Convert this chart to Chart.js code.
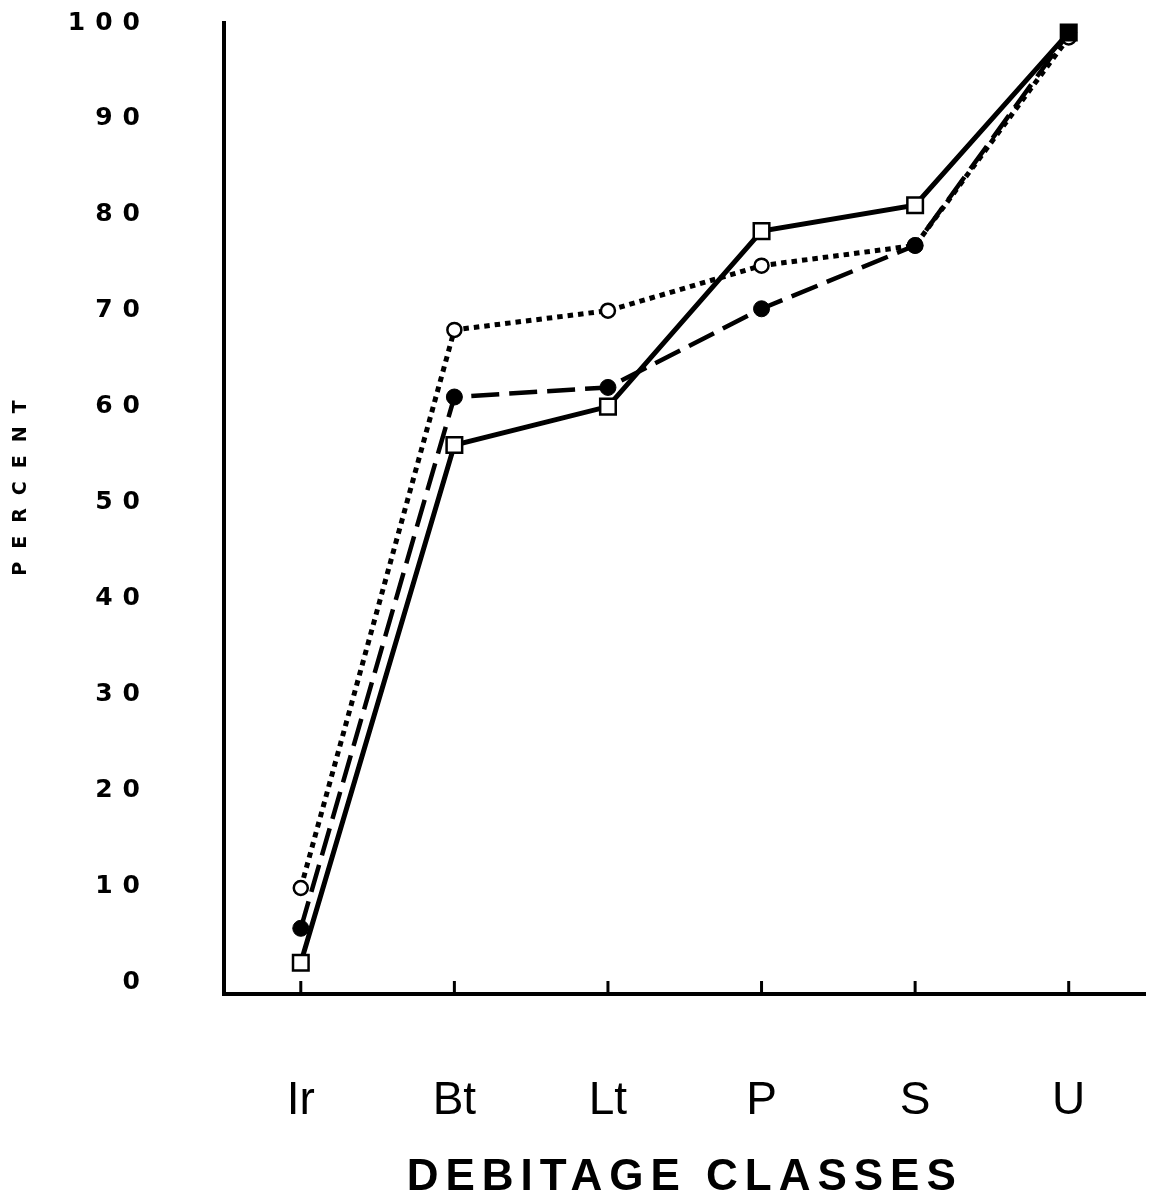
<!DOCTYPE html>
<html>
<head>
<meta charset="utf-8">
<script src="https://cdn.jsdelivr.net/npm/chart.js@4/dist/chart.umd.min.js"></script>
<style>
  html, body { margin: 0; padding: 0; background: #fff; }
  canvas { display: block; }
</style>
</head>
<body>
<canvas id="chart" width="1159" height="1197"></canvas>
<script>
// debitage classes along the bottom
const classes = ['Ir', 'Bt', 'Lt', 'P', 'S', 'U'];
const yTicks = [0, 10, 20, 30, 40, 50, 60, 70, 80, 90, 100];

// values (percent)
const squareSolid = [2, 56, 60, 78.3, 81, 99];
const dotDashed = [5.6, 61, 62, 70.2, 76.8, 99];
const ringDotted = [9.8, 68, 70, 74.7, 76.8, 98.5];

// letter spacing per piece of axis text (the original is typed wide)
const letterGaps = {
    y: { drawLabels: '10px', drawTitle: '13px' },
    x: { drawLabels: '0px', drawTitle: '7px' }
};
const titleNudge = { y: -27, x: 0 }; // PERCENT sits a bit above centre

const axisExtras = {
    id: 'axisExtras',
    beforeDraw(chart) {
        Object.entries(letterGaps).forEach(([id, parts]) => {
            const scale = chart.scales[id];
            Object.entries(parts).forEach(([fn, gap]) => {
                if (Object.prototype.hasOwnProperty.call(scale, fn)) return;
                const orig = scale[fn];
                const nudge = fn === 'drawTitle' ? titleNudge[id] : 0;
                scale[fn] = function (...args) {
                    const c = this.ctx;
                    c.save();
                    c.letterSpacing = gap;
                    c.translate(0, nudge);
                    orig.apply(this, args);
                    c.restore();
                };
            });
        });
    },
    afterDatasetsDraw(chart) {
        // short tick marks pointing up from the x axis
        const ctx = chart.ctx;
        const xs = chart.scales.x;
        const bottom = chart.chartArea.bottom;
        ctx.save();
        ctx.strokeStyle = '#000';
        ctx.lineWidth = 3;
        xs.ticks.forEach((t, i) => {
            const px = xs.getPixelForTick(i);
            ctx.beginPath();
            ctx.moveTo(px, bottom);
            ctx.lineTo(px, bottom - 13);
            ctx.stroke();
        });
        ctx.restore();
    }
};

const ctx = document.getElementById('chart').getContext('2d');
new Chart(ctx, {
    type: 'line',
    data: {
        labels: classes,
        datasets: [
            {
                label: 'squares',
                data: squareSolid,
                borderColor: '#000',
                borderWidth: 5,
                pointStyle: 'rect',
                pointRadius: 11,
                pointBorderWidth: 2.5,
                pointBorderColor: '#000',
                pointBackgroundColor: ['#fff', '#fff', '#fff', '#fff', '#fff', '#000'],
                tension: 0
            },
            {
                label: 'filled circles',
                data: dotDashed,
                borderColor: '#000',
                borderWidth: 4.5,
                borderDash: [28, 10],
                pointStyle: 'circle',
                pointRadius: 8,
                pointBorderWidth: 1,
                pointBorderColor: '#000',
                pointBackgroundColor: '#000',
                tension: 0
            },
            {
                label: 'open circles',
                data: ringDotted,
                borderColor: '#000',
                borderWidth: 5,
                borderDash: [5.5, 5],
                pointStyle: 'circle',
                pointRadius: 7,
                pointBorderWidth: 2.5,
                pointBorderColor: '#000',
                pointBackgroundColor: '#fff',
                tension: 0
            }
        ]
    },
    options: {
        responsive: false,
        animation: false,
        layout: { padding: { top: 23, right: 9, bottom: 0, left: 0 } },
        plugins: {
            legend: { display: false },
            tooltip: { enabled: false }
        },
        scales: {
            x: {
                type: 'category',
                offset: true,
                grid: { display: false, drawTicks: false },
                border: { display: true, color: '#000', width: 4 },
                ticks: {
                    color: '#000',
                    padding: 80,
                    font: { family: '"Liberation Sans", Arial, sans-serif', size: 46 }
                },
                title: {
                    display: true,
                    text: 'DEBITAGE CLASSES',
                    color: '#000',
                    padding: { top: 0, bottom: -3 },
                    font: { family: '"Liberation Sans", Arial, sans-serif', size: 44, weight: 'bold', lineHeight: 1 }
                },
                afterFit(scale) {
                    scale.height = 203;
                    scale.paddingLeft = 0;
                    scale.paddingRight = 0;
                }
            },
            y: {
                min: -1.25,
                max: 100,
                grid: { display: false, drawTicks: false },
                border: { display: true, color: '#000', width: 4 },
                afterBuildTicks(scale) {
                    scale.ticks = yTicks.map(v => ({ value: v }));
                },
                ticks: {
                    color: '#000',
                    padding: 74,
                    font: { family: '"DejaVu Sans", sans-serif', size: 25, weight: 'bold' }
                },
                title: {
                    display: true,
                    text: 'PERCENT',
                    color: '#000',
                    padding: { top: 12, bottom: 0 },
                    font: { family: '"DejaVu Sans", sans-serif', size: 19, weight: 'bold', lineHeight: 1 }
                },
                afterFit(scale) {
                    scale.width = 224;
                    scale.paddingTop = 0;
                    scale.paddingBottom = 0;
                }
            }
        }
    },
    plugins: [axisExtras]
});
</script>
</body>
</html>
